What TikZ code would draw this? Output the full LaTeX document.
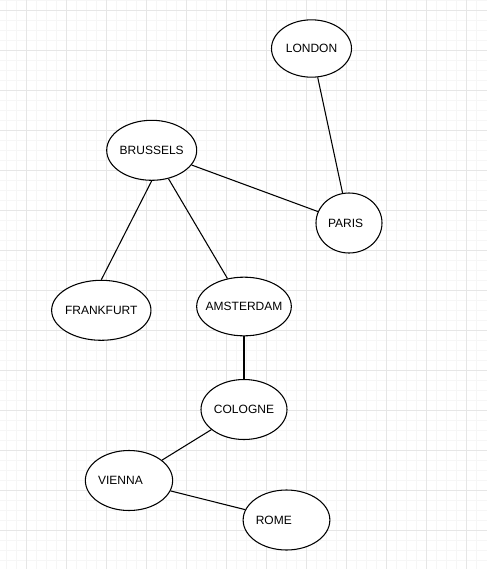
\documentclass[tikz,border=0pt]{standalone}
\usepackage{fontspec}
\setmainfont{Liberation Sans}
\usetikzlibrary{shapes.geometric}
\definecolor{gridminor}{RGB}{246,246,246}
\definecolor{gridmajor}{RGB}{230,230,230}
\tikzset{
  city/.style={draw=black, fill=white, ellipse, inner sep=0pt, line width=0.8pt,
    font=\fontsize{9}{10}\selectfont, minimum height=45pt, minimum width=#1},
  city/.default=64pt,
  road/.style={draw=black, line width=0.8pt},
  finegrid/.style={draw=gridminor, line width=0.6pt},
  coarsegrid/.style={draw=gridmajor, line width=0.75pt},
}

\begin{document}
\begin{tikzpicture}[x=0.75pt, y=-0.75pt]
    % Fond quadrillé
    \useasboundingbox (0,0) rectangle (487,569);
    \fill[white] (0,0) rectangle (487,569);
    \foreach \gx in {6.7,16.7,...,486} \draw[finegrid] (\gx,0) -- (\gx,569);
    \foreach \gy in {0,10,...,569} \draw[finegrid] (0,\gy) -- (487,\gy);
    \foreach \gx in {26.7,66.7,...,486} \draw[coarsegrid] (\gx,0) -- (\gx,569);
    \foreach \gy in {10,50,...,569} \draw[coarsegrid] (0,\gy) -- (487,\gy);
    % Villes
    \node[city=60pt, minimum height=43pt] (london)    at (311.5,48.5)  {LONDON};
    \node[city=67.5pt]                    (brussels)  at (151.7,150.3) {\makebox[0pt]{BRUSSELS}};
    \node[city=49.5pt]                    (paris)     at (349,223)     {PARIS\hspace*{5pt}};
    \node[city=74.5pt]                    (frankfurt) at (101.3,310.3) {\makebox[0pt]{FRANKFURT}};
    \node[city=71pt, minimum height=44pt] (amsterdam) at (244,306.5)   {\makebox[0pt]{AMSTERDAM}};
    \node[city=64.5pt]                    (cologne)   at (244,409.5)   {COLOGNE};
    \node[city=64.5pt]                    (vienna)    at (129,480.5)   {VIENNA\hspace*{12.8pt}};
    \node[city=64pt]                      (rome)      at (286.5,520)   {ROME\hspace*{19pt}};
    % Liaisons
    \draw[road] (london) -- (paris);
    \draw[road] (brussels) -- (paris);
    \draw[road] (brussels.south) -- (frankfurt.north);
    \draw[road] (brussels) -- (amsterdam);
    \draw[road] (amsterdam) -- (cologne);
    \draw[road] (cologne) -- (vienna);
    \draw[road] (vienna) -- (rome);
\end{tikzpicture}
\end{document}
